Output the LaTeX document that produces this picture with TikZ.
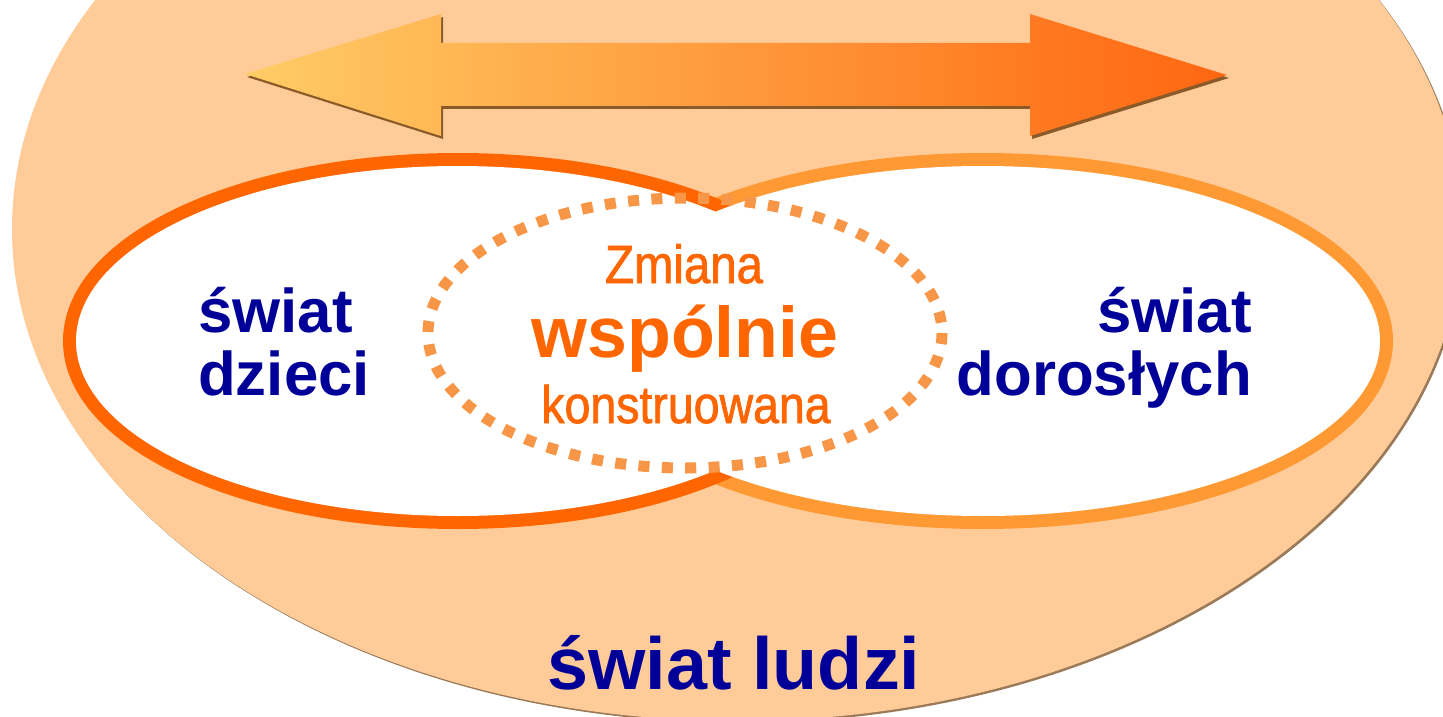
\documentclass[tikz,border=0pt]{standalone}
\usepackage{fontspec}
\setmainfont{Liberation Sans}
\newfontfamily\narrowfont[FakeStretch=0.88,FakeBold=1.3]{Liberation Sans}
\usepackage{tikz}
\definecolor{peach}{HTML}{FFCC99}
\definecolor{rimbrown}{HTML}{9A7A58}
\definecolor{arrowlight}{HTML}{FFCC66}
\definecolor{arrowdark}{HTML}{FF6611}
\definecolor{arrowshadow}{HTML}{8A5A28}
\definecolor{kidorange}{HTML}{FF6600}
\definecolor{adultorange}{HTML}{FF9933}
\definecolor{dotorange}{HTML}{F79646}
\definecolor{worldblue}{HTML}{000099}

\begin{document}
\begin{tikzpicture}[x=1bp,y=-1bp,
    every node/.style={inner sep=0pt},
    world/.style={font=\bfseries\fontsize{62}{62}\selectfont,text=worldblue},
    change/.style={text=kidorange}]
        % the page, the big ellipse runs off it
        \clip (0,0) rectangle (1443,717);

        % the world of people, shadow first
        \fill[rimbrown] (739,231) ellipse [x radius=725, y radius=492];
        \fill[peach] (737,229) ellipse [x radius=725, y radius=492];

        %% the double arrow
        \fill[arrowshadow] (247,77) -- (443,17) -- (443,46) -- (1032,46) -- (1032,17)
          -- (1229,78) -- (1032,139) -- (1032,109) -- (443,109) -- (443,139) -- cycle;
        \shade[left color=arrowlight,right color=arrowdark] (245,74) -- (441,14) -- (441,43)
          -- (1030,43) -- (1030,14) -- (1227,75) -- (1030,136) -- (1030,106) -- (441,106)
          -- (441,136) -- cycle;

        %% the two worlds: wide strokes, then white fill on top
        \foreach \cx/\rx/\col in {983/397/adultorange,458/382/kidorange}
          \draw[line width=26bp,\col] (\cx,341) ellipse [x radius=\rx, y radius=175];
        \foreach \cx/\rx in {983/397,458/382}
          \fill[white] (\cx,341) ellipse [x radius=\rx, y radius=175];

        % the dotted ring in the middle
        \draw[dotorange,line width=11bp,dash pattern=on 11bp off 12.4bp]
          (685,333) ellipse [x radius=257, y radius=135];

        %% texts
        \node[world,anchor=base west] (kids1) at (198,332) {świat};
        \node[world,anchor=base west] (kids2) at (198,395) {dzieci};
        \node[world,anchor=base east] (adults1) at (1252,332) {świat};
        \node[world,anchor=base east] (adults2) at (1252,395) {dorosłych};
        \node[change,anchor=base,font=\narrowfont\fontsize{54}{54}\selectfont] (change1) at (684,283) {Zmiana};
        \node[change,anchor=base,font=\bfseries\fontsize{72}{72}\selectfont] (change2) at (685,357) {wspólnie};
        \node[change,anchor=base,font=\narrowfont\fontsize{53}{53}\selectfont] (change3) at (686,423) {konstruowana};
        \node[world,anchor=base,font=\bfseries\fontsize{74}{74}\selectfont] (people) at (734,689) {świat ludzi};
      \end{tikzpicture}
\end{document}
